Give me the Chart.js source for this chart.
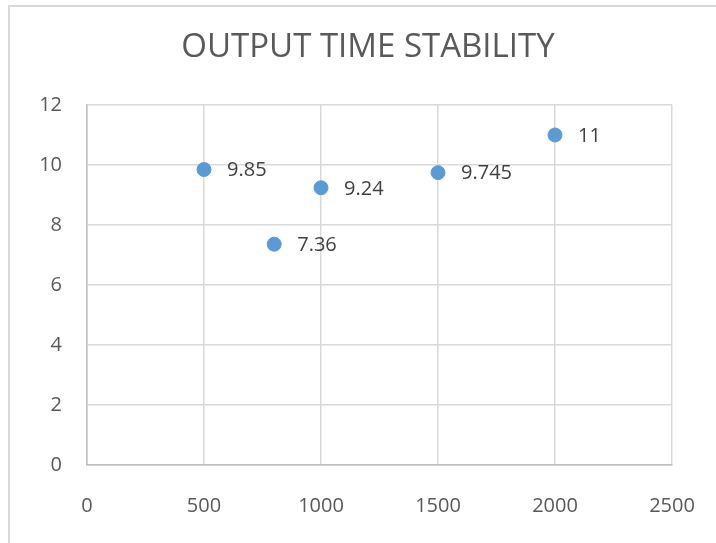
<!DOCTYPE html>
<html>
<head>
<meta charset="utf-8">
<script src="https://cdn.jsdelivr.net/npm/chart.js@4"></script>
<style>
    html, body { margin: 0; padding: 0; background: #fff; }
    #wrap { position: relative; width: 716px; height: 543px; }
</style>
</head>
<body>
<div id="wrap"><canvas id="stabilityChart"></canvas></div>
<script>
const chartTitle = 'OUTPUT TIME STABILITY';
const outputSize = [500, 800, 1000, 1500, 2000];
const outputTime = [9.85, 7.36, 9.24, 9.745, 11];
const pointLabels = ['9.85', '7.36', '9.24', '9.745', '11'];

document.addEventListener('DOMContentLoaded', function () {

    // light frame round the chart and the title, like the spreadsheet chart box
    const framePlugin = {
        id: 'frame',
        beforeDraw(chart) {
            const ctx = chart.ctx;
            ctx.save();
            ctx.strokeStyle = '#d9d9d9';
            ctx.lineWidth = 2;
            ctx.beginPath();
            ctx.moveTo(9, chart.height);
            ctx.lineTo(9, 6);
            ctx.lineTo(chart.width, 6);
            ctx.stroke();

            ctx.font = '33px "Open Sans"';
            ctx.fillStyle = '#595959';
            ctx.textAlign = 'center';
            ctx.textBaseline = 'middle';
            ctx.fillText(chartTitle, 368, 48);
            ctx.restore();
        }
    };

    // value labels to the right of each point
    const labelPlugin = {
        id: 'pointValues',
        afterDatasetsDraw(chart) {
            const ctx = chart.ctx;
            const meta = chart.getDatasetMeta(0);
            ctx.save();
            ctx.font = '20px "Open Sans"';
            ctx.fillStyle = '#404040';
            ctx.textAlign = 'left';
            ctx.textBaseline = 'middle';
            meta.data.forEach(function (pt, i) {
                ctx.fillText(pointLabels[i], pt.x + 23, pt.y + 1);
            });
            ctx.restore();
        }
    };

    const ctx = document.getElementById('stabilityChart').getContext('2d');
    const stabilityChart = new Chart(ctx, {
        type: 'scatter',
        data: {
            datasets: [{
                label: 'Output time',
                data: outputSize.map(function (x, i) { return { x: x, y: outputTime[i] }; }),
                backgroundColor: '#5b9bd5',
                borderColor: '#5b9bd5',
                pointRadius: 7,
                pointHoverRadius: 7
            }]
        },
        options: {
            responsive: true,
            maintainAspectRatio: false,
            animation: false,
            layout: { autoPadding: false, padding: { left: 0, right: 44, top: 105, bottom: 0 } },
            plugins: {
                legend: { display: false },
                tooltip: { enabled: false },
                title: { display: false }
            },
            scales: {
                x: {
                    type: 'linear',
                    min: 0,
                    max: 2500,
                    ticks: {
                        stepSize: 500,
                        color: '#595959',
                        padding: 29,
                        font: { family: 'Open Sans', size: 20 },
                        callback: function (v) { return String(v); }
                    },
                    grid: { color: '#d9d9d9', lineWidth: 1.5, drawTicks: false },
                    border: { color: '#bfbfbf', width: 1.5 },
                    afterFit(scale) {
                        scale.height = 78;
                        scale.paddingLeft = 0;
                        scale.paddingRight = 0;
                    }
                },
                y: {
                    min: 0,
                    max: 12,
                    ticks: {
                        stepSize: 2,
                        color: '#595959',
                        padding: 25,
                        font: { family: 'Open Sans', size: 20 }
                    },
                    grid: { color: '#d9d9d9', lineWidth: 1.5, drawTicks: false },
                    border: { color: '#bfbfbf', width: 1.5 },
                    afterFit(scale) {
                        scale.width = 87;
                        scale.paddingTop = 0;
                        scale.paddingBottom = 0;
                    }
                }
            }
        },
        plugins: [framePlugin, labelPlugin]
    });
});
</script>
</body>
</html>
